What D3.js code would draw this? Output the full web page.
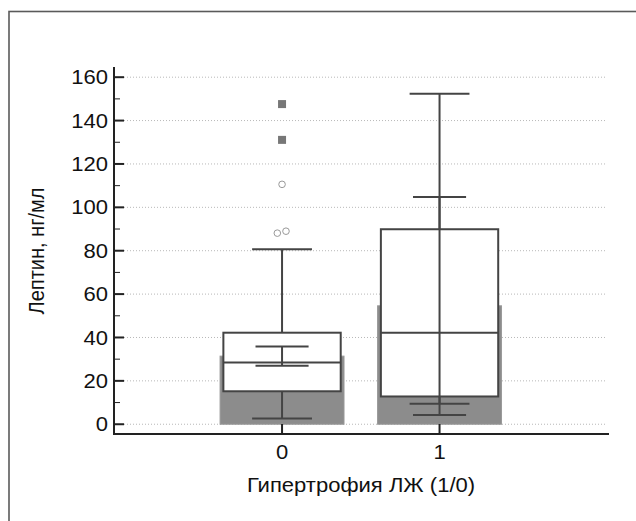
<!DOCTYPE html>
<html><head><meta charset="utf-8">
<script src="https://cdn.jsdelivr.net/npm/d3@7"></script>
<style>body{margin:0;background:#fff;} svg{display:block;}</style>
</head><body>
<svg id="c" width="636" height="521"></svg>
<script>
const categories = [0, 1];
const whiskerLow = [2.6, 9.5];
const q1 = [15.2, 12.8];
const median = [28.5, 42.2];
const q3 = [42.2, 89.9];
const whiskerHigh = [80.7, 152.4];
const meanVal = [31.4, 54.6];
const errLow = [27.0, 4.3];
const errHigh = [35.8, 104.8];
const outlierCircles = [[0, 110.6, 0], [0, 88.1, -0.03], [0, 89.0, 0.025]];
const outlierSquares = [[0, 147.6], [0, 131.1]];
const yTicks = [0, 20, 40, 60, 80, 100, 120, 140, 160];
const yMinor = [10, 30, 50, 70, 90, 110, 130, 150];
const xTickLabels = ["0", "1"];

const svg = d3.select("#c");
const font = "'Liberation Sans', Arial, sans-serif";
const fs = 19.5, sx = 1.13;

// frame
svg.append("rect").attr("x", 9).attr("y", 11.5).attr("width", 700).attr("height", 600)
  .attr("fill", "none").attr("stroke", "#5a5a5a").attr("stroke-width", 1.6);

const x = d3.scaleLinear().domain([-1.067, 2.076]).range([114, 609]);
const y = d3.scaleLinear().domain([-4.5, 164.7]).range([434, 67]);

// grid
svg.append("g").selectAll("line").data(yTicks).join("line")
  .attr("x1", 124).attr("x2", 606).attr("y1", d => y(d)).attr("y2", d => y(d))
  .attr("stroke", "#b8b8b8").attr("stroke-width", 1).attr("stroke-dasharray", "1,2");

const boxW = 0.745, barW = 0.787, capW = 0.38, capW2 = 0.337;
const stroke = "#444";

const g = svg.append("g");
g.selectAll("rect.bar").data(categories).join("rect").attr("class", "bar")
  .attr("x", d => x(d - barW / 2)).attr("width", x(barW) - x(0))
  .attr("y", (d, i) => y(meanVal[i])).attr("height", (d, i) => y(0) - y(meanVal[i]))
  .attr("fill", "#8c8c8c").attr("stroke", "#9a9a9a").attr("stroke-width", 1);

g.selectAll("rect.box").data(categories).join("rect").attr("class", "box")
  .attr("x", d => x(d - boxW / 2)).attr("width", x(boxW) - x(0))
  .attr("y", (d, i) => y(q3[i])).attr("height", (d, i) => y(q1[i]) - y(q3[i]))
  .attr("fill", "#fff").attr("stroke", stroke).attr("stroke-width", 2);

function vline(xv, a, b) {
  g.append("line").attr("x1", x(xv)).attr("x2", x(xv)).attr("y1", y(a)).attr("y2", y(b))
    .attr("stroke", stroke).attr("stroke-width", 2);
}
function hline(xv, w, v) {
  g.append("line").attr("x1", x(xv - w / 2)).attr("x2", x(xv + w / 2)).attr("y1", y(v)).attr("y2", y(v))
    .attr("stroke", stroke).attr("stroke-width", 2);
}
categories.forEach((c, i) => {
  vline(c, whiskerLow[i], q1[i]);
  vline(c, q3[i], whiskerHigh[i]);
  vline(c, errLow[i], errHigh[i]);
  hline(c, capW, whiskerLow[i]);
  hline(c, capW, whiskerHigh[i]);
  hline(c, capW2, errLow[i]);
  hline(c, capW2, errHigh[i]);
  hline(c, boxW, median[i]);
});

g.selectAll("circle").data(outlierCircles).join("circle")
  .attr("cx", d => x(d[0] + d[2])).attr("cy", d => y(d[1])).attr("r", 3.3)
  .attr("fill", "#fff").attr("stroke", "#999").attr("stroke-width", 1);
g.selectAll("rect.sq").data(outlierSquares).join("rect").attr("class", "sq")
  .attr("x", d => x(d[0]) - 4).attr("y", d => y(d[1]) - 4).attr("width", 8).attr("height", 8)
  .attr("fill", "#777");

const ax = svg.append("g");
ax.append("line").attr("x1", 114).attr("x2", 114).attr("y1", 67).attr("y2", 434.5)
  .attr("stroke", "#222").attr("stroke-width", 2);
ax.append("line").attr("x1", 113).attr("x2", 609).attr("y1", 434).attr("y2", 434)
  .attr("stroke", "#222").attr("stroke-width", 2);
ax.selectAll("line.mj").data(yTicks).join("line").attr("class", "mj")
  .attr("x1", 114).attr("x2", 124).attr("y1", d => y(d)).attr("y2", d => y(d))
  .attr("stroke", "#222").attr("stroke-width", 2);
ax.selectAll("line.mn").data(yMinor).join("line").attr("class", "mn")
  .attr("x1", 114).attr("x2", 120).attr("y1", d => y(d)).attr("y2", d => y(d))
  .attr("stroke", "#222").attr("stroke-width", 1);
ax.selectAll("text.yt").data(yTicks).join("text").attr("class", "yt")
  .attr("transform", d => `translate(108,${y(d)}) scale(${sx},1)`)
  .attr("dy", "0.36em").attr("text-anchor", "end")
  .attr("font-family", font).attr("font-size", fs).attr("fill", "#111").text(d => d);
ax.selectAll("line.xt").data(categories).join("line").attr("class", "xt")
  .attr("x1", d => x(d)).attr("x2", d => x(d)).attr("y1", 424).attr("y2", 434)
  .attr("stroke", "#222").attr("stroke-width", 2);
ax.selectAll("text.xt").data(categories).join("text").attr("class", "xt")
  .attr("transform", d => `translate(${x(d)},459) scale(${sx},1)`).attr("text-anchor", "middle")
  .attr("font-family", font).attr("font-size", fs).attr("fill", "#111").text((d, i) => xTickLabels[i]);

svg.append("text").attr("transform", `translate(361,491.5) scale(${sx},1)`).attr("text-anchor", "middle")
  .attr("font-family", font).attr("font-size", fs).attr("fill", "#111").text("Гипертрофия ЛЖ (1/0)");
svg.append("text").attr("transform", `translate(44,251) scale(${sx},1) rotate(-90)`).attr("text-anchor", "middle")
  .attr("font-family", font).attr("font-size", 20).attr("fill", "#111").text("Лептин, нг/мл");
</script>
</body></html>
